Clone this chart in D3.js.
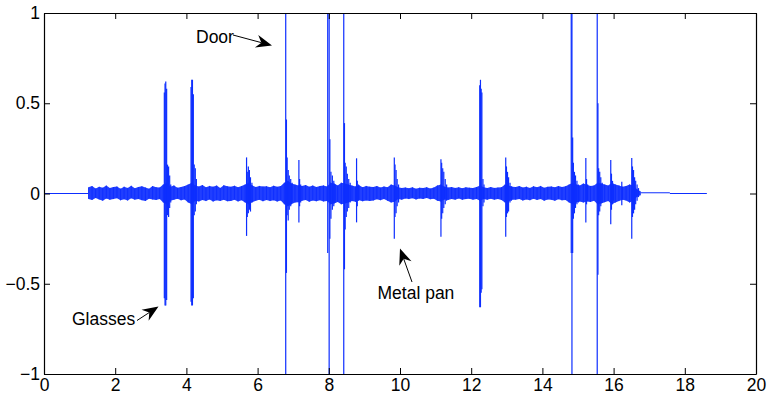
<!DOCTYPE html>
<html>
<head>
<meta charset="utf-8">
<script src="https://cdn.jsdelivr.net/npm/d3@7"></script>
<style>
  html, body { margin: 0; padding: 0; background: #fff; }
  svg { display: block; }
  text { font-family: "Liberation Sans", Arial, Helvetica, sans-serif; }
</style>
</head>
<body>
<svg id="chart" width="768" height="402"></svg>
<script>
// ---- Axis ticks -----------------------------------------------------------
const xTicks = [0, 2, 4, 6, 8, 10, 12, 14, 16, 18, 20];
const yTicks = [-1, -0.5, 0, 0.5, 1];

// ---- Background noise envelope (every 0.1 s from 1.25 s) ------------------
const noiseStart = 1.25;
const noiseStep = 0.1;
const noiseHigh = [
  .034,.041,.028,.037,.032,.044,.030,.036,.039,.027,
  .038,.031,.043,.029,.036,.040,.033,.027,.041,.035,
  .033,.050,.060,.038,.045,.032,.036,.041,.050,.060,
  .045,.039,.047,.034,.042,.038,.044,.031,.046,.040,
  .037,.043,.035,.041,.050,.060,.045,.036,.042,.039,
  .040,.034,.043,.037,.041,.060,.070,.055,.050,.045,
  .042,.047,.038,.044,.036,.041,.045,.039,.060,.055,
  .045,.060,.055,.050,.044,.039,.046,.035,.042,.038,
  .036,.041,.033,.039,.034,.050,.045,.035,.030,.033,
  .029,.034,.027,.032,.030,.035,.028,.033,.045,.050,
  .038,.033,.036,.031,.035,.029,.034,.032,.030,.036,
  .045,.034,.030,.036,.031,.033,.035,.050,.045,.038,
  .036,.041,.033,.038,.031,.040,.035,.042,.032,.037,
  .039,.034,.041,.036,.040,.050,.060,.050,.045,.055,
  .048,.042,.045,.060,.055,.050,.044,.060,.050,.045,
  .038,.041,.050,.045,.025,.012
];
const noiseLow = [
  -.030,-.036,-.025,-.033,-.040,-.028,-.035,-.031,-.026,-.038,
  -.032,-.039,-.027,-.034,-.030,-.037,-.041,-.029,-.033,-.036,
  -.031,-.050,-.060,-.040,-.035,-.029,-.038,-.033,-.050,-.060,
  -.040,-.044,-.036,-.042,-.033,-.045,-.038,-.041,-.035,-.043,
  -.041,-.034,-.044,-.037,-.050,-.060,-.048,-.040,-.035,-.043,
  -.036,-.042,-.038,-.045,-.039,-.060,-.070,-.060,-.050,-.048,
  -.040,-.036,-.046,-.039,-.043,-.037,-.044,-.041,-.060,-.055,
  -.047,-.060,-.055,-.050,-.042,-.046,-.037,-.043,-.039,-.041,
  -.039,-.032,-.037,-.030,-.040,-.050,-.046,-.031,-.034,-.028,
  -.031,-.026,-.033,-.028,-.030,-.025,-.032,-.029,-.040,-.045,
  -.033,-.036,-.030,-.034,-.028,-.035,-.031,-.029,-.034,-.030,
  -.040,-.031,-.035,-.029,-.034,-.030,-.036,-.050,-.045,-.034,
  -.034,-.030,-.039,-.033,-.037,-.029,-.036,-.031,-.040,-.033,
  -.035,-.040,-.032,-.038,-.036,-.050,-.060,-.050,-.045,-.050,
  -.044,-.047,-.040,-.060,-.055,-.048,-.042,-.060,-.050,-.042,
  -.035,-.039,-.050,-.040,-.020,-.010
];

// ---- Quiet stretches before and after the recording ----------------------
const quietStart = [0, 16.76, 17.58];
const quietEnd   = [1.25, 17.58, 18.62];
const quietLevel = [0, 0.004, 0];

// ---- Transient peaks: time (s), positive and negative excursion ----------
const spikeTime = [
  3.38, 3.40, 3.42, 3.445, 3.47, 3.50, 3.53, 3.56,
  4.13, 4.15, 4.17, 4.195, 4.22, 4.25, 4.28,
  5.69, 5.71, 5.74, 5.77, 5.80, 5.84,
  6.79, 6.81, 6.83, 6.86, 6.89, 6.93, 6.97,
  7.16, 7.18, 7.21,
  7.97, 8.01, 8.03, 8.06, 8.10, 8.14, 8.18,
  8.42, 8.44, 8.46, 8.49, 8.52, 8.56, 8.60,
  8.78, 8.80, 8.83,
  9.84, 9.86, 9.89, 9.92, 9.96,
  11.15, 11.17, 11.20, 11.23, 11.27, 11.31,
  12.24, 12.26, 12.28, 12.30, 12.33, 12.36,
  12.97, 12.99, 13.02, 13.05, 13.09, 13.13,
  14.81, 14.83, 14.85, 14.87, 14.90, 14.93, 14.97, 15.01,
  15.22, 15.24, 15.27,
  15.54, 15.56, 15.58, 15.61, 15.64, 15.68,
  15.92, 15.94, 15.97, 16.00,
  16.23,
  16.51, 16.53, 16.56, 16.59, 16.62, 16.66, 16.70
];
const spikeHigh = [
  .56, .61, .62, .58, .16, .15, .10, .05,
  .59, .63, .63, .55, .16, .14, .08,
  .20, .12, .15, .13, .09, .06,
  1, .41, .20, .13, .10, .08, .06,
  .185, .08, .05,
  1, 1, .30, .12, .10, .07, .05,
  1, .39, .17, .15, .11, .08, .06,
  .195, .07, .05,
  .20, .16, .13, .08, .05,
  .19, .17, .14, .12, .08, .05,
  .60, .63, .58, .56, .08, .05,
  .20, .15, .12, .09, .06, .04,
  1, 1, .31, .17, .12, .10, .07, .05,
  .197, .08, .05,
  1, .50, .14, .12, .09, .06,
  .185, .11, .07, .05,
  .065,
  .197, .15, .13, .09, .07, .05, .03
];
const spikeLow = [
  -.58, -.62, -.62, -.59, -.12, -.13, -.08, -.05,
  -.60, -.62, -.62, -.58, -.12, -.10, -.06,
  -.235, -.13, -.11, -.09, -.10, -.05,
  -1, -.44, -.12, -.15, -.09, -.07, -.05,
  -.16, -.07, -.05,
  -.33, -1, -.25, -.14, -.09, -.07, -.05,
  -1, -.42, -.20, -.13, -.10, -.08, -.05,
  -.16, -.07, -.04,
  -.25, -.13, -.11, -.07, -.05,
  -.24, -.14, -.11, -.08, -.06, -.04,
  -.63, -.63, -.55, -.53, -.07, -.05,
  -.24, -.13, -.11, -.10, -.05, -.04,
  -.33, -1, -.33, -.14, -.11, -.08, -.06, -.05,
  -.16, -.06, -.04,
  -1, -.45, -.12, -.10, -.07, -.05,
  -.17, -.09, -.06, -.04,
  -.065,
  -.25, -.13, -.11, -.09, -.06, -.04, -.02
];

// ---- Annotation labels ----------------------------------------------------
const noteText = ["Door", "Glasses", "Metal pan"];

// ---- Layout ---------------------------------------------------------------
const W = 768, H = 402;
const plot = { left: 44, right: 756, top: 13, bottom: 374 };
const waveColor = "#0d2eff";

const svg = d3.select("#chart");
svg.append("rect").attr("width", W).attr("height", H).attr("fill", "#fff");

const x = d3.scaleLinear().domain([0, 20]).range([plot.left, plot.right]);
const y = d3.scaleLinear().domain([-1, 1]).range([plot.bottom, plot.top]);

svg.append("defs").append("clipPath").attr("id", "plotClip")
  .append("rect")
  .attr("x", plot.left).attr("y", plot.top)
  .attr("width", plot.right - plot.left).attr("height", plot.bottom - plot.top);

const wave = svg.append("g").attr("clip-path", "url(#plotClip)");

// quiet stretches
wave.selectAll("line.quiet")
  .data(quietStart.map((s, i) => ({ s, e: quietEnd[i], v: quietLevel[i] })))
  .join("line")
  .attr("class", "quiet")
  .attr("x1", d => x(d.s)).attr("x2", d => x(d.e))
  .attr("y1", d => y(d.v)).attr("y2", d => y(d.v))
  .attr("stroke", waveColor).attr("stroke-width", 1);

// background noise band
const noise = noiseHigh.map((h, i) => ({
  t: noiseStart + i * noiseStep, hi: h, lo: noiseLow[i]
}));
wave.append("path")
  .datum(noise)
  .attr("d", d3.area().x(d => x(d.t)).y0(d => y(d.lo)).y1(d => y(d.hi)))
  .attr("fill", waveColor).attr("fill-opacity", 0.92);

// sample peaks poking out of the band
wave.selectAll("line.grain")
  .data(noise)
  .join("line")
  .attr("class", "grain")
  .attr("x1", d => x(d.t)).attr("x2", d => x(d.t))
  .attr("y1", d => y(d.hi)).attr("y2", d => y(d.lo))
  .attr("stroke", waveColor).attr("stroke-width", 0.9);

// transient peaks
const spikes = spikeTime.map((t, i) => ({ t, hi: spikeHigh[i], lo: spikeLow[i] }));
wave.selectAll("line.spike")
  .data(spikes)
  .join("line")
  .attr("class", "spike")
  .attr("x1", d => x(d.t)).attr("x2", d => x(d.t))
  .attr("y1", d => y(d.hi)).attr("y2", d => y(d.lo))
  .attr("stroke", waveColor).attr("stroke-width", 1.2);

// ---- Axes (box with inward ticks) ----------------------------------------
const fmtY = v => (v < 0 ? "\u2212" + Math.abs(v) : String(v));
const tickLen = 6;

function styleAxis(g) {
  g.attr("font-family", null).attr("font-size", null);
  g.selectAll("path.domain").attr("stroke", "#000").attr("stroke-width", 1.2);
  g.selectAll(".tick line").attr("stroke", "#000").attr("stroke-width", 1);
  g.selectAll(".tick text").attr("fill", "#000").style("font-size", "17.5px");
}

svg.append("g").attr("transform", `translate(0,${plot.bottom})`)
  .call(d3.axisBottom(x).tickValues(xTicks).tickSize(-tickLen).tickSizeOuter(0)
    .tickPadding(5).tickFormat(d => String(d)))
  .call(styleAxis);
svg.append("g").attr("transform", `translate(0,${plot.top})`)
  .call(d3.axisTop(x).tickValues(xTicks).tickSize(-tickLen).tickSizeOuter(0).tickFormat(""))
  .call(styleAxis);
svg.append("g").attr("transform", `translate(${plot.left},0)`)
  .call(d3.axisLeft(y).tickValues(yTicks).tickSize(-tickLen).tickSizeOuter(0)
    .tickPadding(4).tickFormat(fmtY))
  .call(styleAxis);
svg.append("g").attr("transform", `translate(${plot.right},0)`)
  .call(d3.axisRight(y).tickValues(yTicks).tickSize(-tickLen).tickSizeOuter(0).tickFormat(""))
  .call(styleAxis);

// ---- Annotations with notched arrowheads ---------------------------------
const notes = [
  { text: noteText[0], tx: 196, ty: 42.5, from: [233, 35], tip: [272, 45.5] },
  { text: noteText[1], tx: 72, ty: 324.5, from: [137, 320.5], tip: [158.5, 306.5] },
  { text: noteText[2], tx: 377.5, ty: 298.5, from: [412, 282], tip: [400, 248.5] }
];
const headLen = 16, headHalf = 6.5, notch = 5;

const ann = svg.append("g");
notes.forEach(n => {
  ann.append("text")
    .attr("x", n.tx).attr("y", n.ty)
    .attr("fill", "#000").style("font-size", "17.5px")
    .text(n.text);
  const dx = n.tip[0] - n.from[0], dy = n.tip[1] - n.from[1];
  const len = Math.hypot(dx, dy);
  const ux = dx / len, uy = dy / len;
  const px = -uy, py = ux;
  const [tx, ty] = n.tip;
  const back = [tx - headLen * ux, ty - headLen * uy];
  const mid = [tx - (headLen - notch) * ux, ty - (headLen - notch) * uy];
  ann.append("line")
    .attr("x1", n.from[0]).attr("y1", n.from[1])
    .attr("x2", mid[0]).attr("y2", mid[1])
    .attr("stroke", "#000").attr("stroke-width", 1);
  ann.append("path")
    .attr("d", d3.line()([
      [tx, ty],
      [back[0] + headHalf * px, back[1] + headHalf * py],
      mid,
      [back[0] - headHalf * px, back[1] - headHalf * py]
    ]) + "Z")
    .attr("fill", "#000");
});
</script>
</body>
</html>
